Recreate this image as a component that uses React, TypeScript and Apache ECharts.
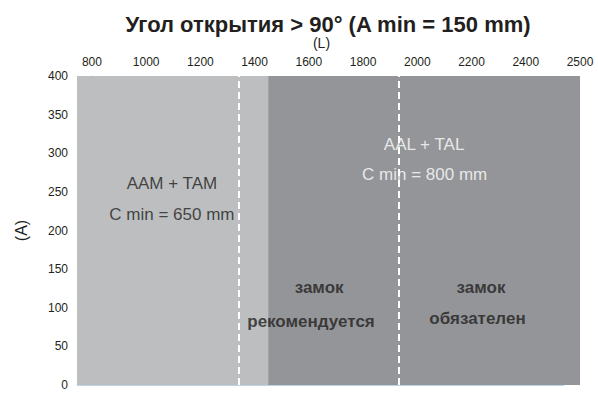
import React, { useEffect, useRef } from "react";
import * as echarts from "echarts";

// ---- data ----
const TITLE = "Угол открытия > 90° (A min = 150 mm)";
const L_TICKS = [800, 1000, 1200, 1400, 1600, 1800, 2000, 2200, 2400, 2500];
const L_MIN = 745;
const L_MAX = 2500;
const A_MIN = 0;
const A_MAX = 400;
const A_STEP = 50;
// zones along L: [from, to]
const ZONE_LIGHT = [L_MIN, 1450];
const ZONE_DARK = [1450, 2500];
// dashed boundaries (L)
const DASHED_L = [1340, 1930];
// bottom axis segment end (L)
const BOTTOM_LINE_END = 2470;
// annotations: [text, L, A, kind]
const NOTES: [string, number, number, string][] = [
  ["AAM + TAM", 1095, 261, "dark"],
  ["C min = 650 mm", 1095, 221, "dark"],
  ["AAL + TAL", 2025, 311, "white"],
  ["C min = 800 mm", 2027, 272, "white"],
  ["замок", 1638, 126, "bold"],
  ["рекомендуется", 1608, 82, "bold"],
  ["замок", 2235, 126, "bold"],
  ["обязателен", 2222, 86, "bold"],
];

const LIGHT = "#bcbec0";
const DARK = "#939598";
const INK = "#231f20";
const SANS = "'Liberation Sans', Arial, sans-serif";

// The axis is drawn with evenly spaced tick labels (as in the source): map L to tick index
function toIdx(L: number): number {
  const t = L_TICKS;
  if (L <= t[0]) return (L - t[0]) / (t[1] - t[0]);
  for (let i = 0; i < t.length - 1; i++) {
    if (L <= t[i + 1]) return i + (L - t[i]) / (t[i + 1] - t[i]);
  }
  const n = t.length - 1;
  return n + (L - t[n]) / (t[n] - t[n - 1]);
}

export default function App() {
  const ref = useRef<HTMLDivElement>(null);
  useEffect(() => {
    document.body.style.margin = "0";
    if (!ref.current) return;
    const chart = echarts.init(ref.current, undefined, { renderer: "svg" });
    const noteStyle = (kind: string) => {
      if (kind === "bold")
        return { color: INK, fontSize: 17, fontWeight: "bold", fontFamily: SANS };
      if (kind === "white")
        return { color: "#ffffff", fontSize: 17, fontFamily: SANS };
      return { color: INK, fontSize: 17, fontFamily: SANS };
    };
    chart.setOption({
      animation: false,
      title: {
        text: TITLE,
        left: 323,
        top: 8,
        textAlign: "center",
        textStyle: { fontFamily: SANS, fontSize: 22, fontWeight: "bold", color: INK },
      },
      grid: { left: 77, right: 18, top: 76, bottom: 10 },
      xAxis: {
        type: "value",
        position: "top",
        min: toIdx(L_MIN),
        max: toIdx(L_MAX),
        axisLine: { show: false },
        axisTick: { show: false },
        splitLine: { show: false },
        axisLabel: {
          customValues: L_TICKS.map((_, i) => i),
          formatter: (v: number) => String(L_TICKS[Math.round(v)]),
          color: INK,
          fontSize: 12,
          fontFamily: SANS,
          margin: 8,
        },
        name: "(L)",
        nameLocation: "middle",
        nameGap: 26,
        nameTextStyle: { color: INK, fontSize: 14, fontFamily: SANS, padding: [0, 14, 0, 0] },
      },
      yAxis: {
        type: "value",
        min: A_MIN,
        max: A_MAX,
        interval: A_STEP,
        axisLine: { show: true, lineStyle: { color: "#b9d3ea", width: 1 } },
        axisTick: { show: false },
        splitLine: { show: false },
        axisLabel: { color: INK, fontSize: 12, fontFamily: SANS, margin: 9 },
        name: "(A)",
        nameLocation: "middle",
        nameGap: 48,
        nameTextStyle: { color: INK, fontSize: 16, fontFamily: SANS },
      },
      series: [
        {
          type: "line",
          data: [],
          silent: true,
          markArea: {
            silent: true,
            label: { show: false },
            data: [
              [
                { xAxis: toIdx(ZONE_LIGHT[0]), yAxis: A_MIN, itemStyle: { color: LIGHT } },
                { xAxis: toIdx(ZONE_LIGHT[1]), yAxis: A_MAX },
              ],
              [
                { xAxis: toIdx(ZONE_DARK[0]), yAxis: A_MIN, itemStyle: { color: DARK } },
                { xAxis: toIdx(ZONE_DARK[1]), yAxis: A_MAX },
              ],
            ],
          },
          markLine: {
            silent: true,
            symbol: "none",
            label: { show: false },
            data: [
              ...DASHED_L.map((L) => ({
                xAxis: toIdx(L),
                lineStyle: { color: "#ffffff", width: 2, type: [7, 4] },
              })),
              [
                { coord: [toIdx(L_MIN), A_MIN], lineStyle: { color: "#b9d3ea", width: 1, type: "solid" } },
                { coord: [toIdx(BOTTOM_LINE_END), A_MIN] },
              ],
            ],
          },
        },
        {
          type: "scatter",
          symbolSize: 0,
          silent: true,
          z: 10,
          data: NOTES.map(([text, L, A, kind]) => ({
            name: text,
            value: [toIdx(L), A],
            label: { show: true, position: "inside", formatter: text, ...noteStyle(kind) },
          })),
        },
      ],
    });
    return () => chart.dispose();
  }, []);
  return <div ref={ref} style={{ width: 598, height: 395 }} />;
}
